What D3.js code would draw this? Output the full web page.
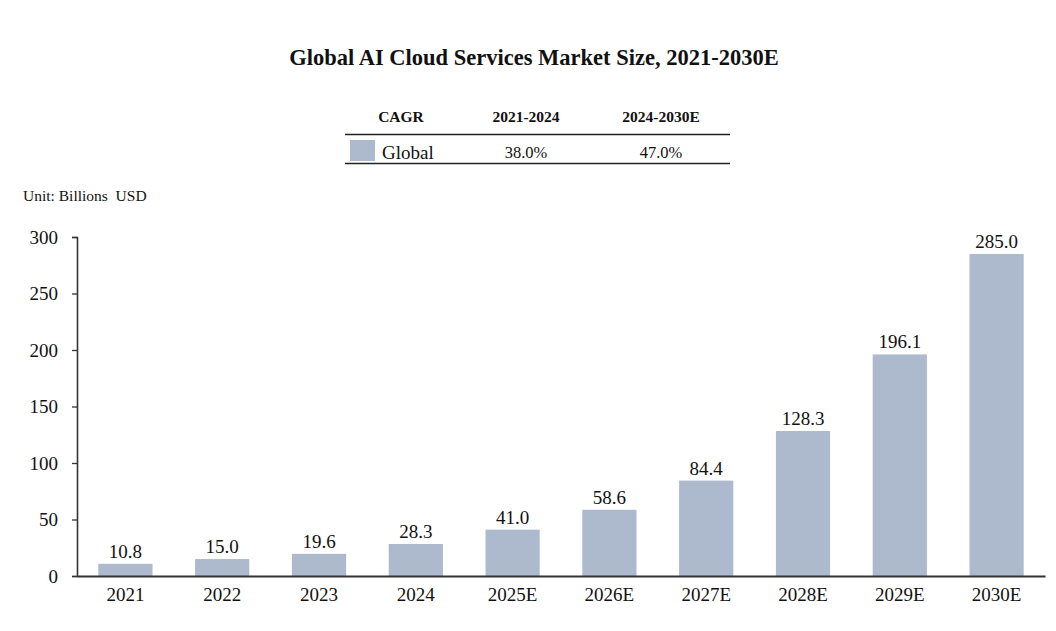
<!DOCTYPE html>
<html lang="en">
<head>
    <meta charset="UTF-8">
    <title>Global AI Cloud Services Market Size</title>
    <script src="https://cdn.jsdelivr.net/npm/d3@7"></script>
    <style>
        body { margin: 0; background: #fff; }
        text { font-family: "Liberation Serif", "Times New Roman", serif; fill: #111; }
    </style>
</head>
<body>
<script>
    // data
    const years = ["2021", "2022", "2023", "2024", "2025E", "2026E", "2027E", "2028E", "2029E", "2030E"];
    const marketSize = [10.8, 15.0, 19.6, 28.3, 41.0, 58.6, 84.4, 128.3, 196.1, 285.0];
    const yTicks = [0, 50, 100, 150, 200, 250, 300];
    const cagrHeaders = ["CAGR", "2021-2024", "2024-2030E"];
    const cagrRow = ["Global", "38.0%", "47.0%"];

    const width = 1056, height = 631;
    const barColor = "#adbacd";

    const svg = d3.select("body").append("svg")
        .attr("width", width)
        .attr("height", height);

    // title
    svg.append("text")
        .attr("x", 534).attr("y", 65)
        .attr("text-anchor", "middle")
        .attr("font-size", 22.5).attr("font-weight", "bold")
        .text("Global AI Cloud Services Market Size, 2021-2030E");

    // CAGR table
    const table = svg.append("g");
    const colX = [401, 526, 661];
    table.selectAll("text.head")
        .data(cagrHeaders)
        .join("text")
        .attr("class", "head")
        .attr("x", (d, i) => colX[i]).attr("y", 122)
        .attr("text-anchor", "middle")
        .attr("font-size", 15.5).attr("font-weight", "bold")
        .text(d => d);

    table.append("line")
        .attr("x1", 345).attr("x2", 730).attr("y1", 134.5).attr("y2", 134.5)
        .attr("stroke", "#222").attr("stroke-width", 1.6);
    table.append("line")
        .attr("x1", 345).attr("x2", 730).attr("y1", 163.5).attr("y2", 163.5)
        .attr("stroke", "#222").attr("stroke-width", 1.6);

    table.append("rect")
        .attr("x", 350).attr("y", 140).attr("width", 25).attr("height", 21)
        .attr("fill", barColor);
    table.append("text")
        .attr("x", 382).attr("y", 159)
        .attr("font-size", 19)
        .text(cagrRow[0]);
    table.selectAll("text.val")
        .data(cagrRow.slice(1))
        .join("text")
        .attr("class", "val")
        .attr("x", (d, i) => colX[i + 1]).attr("y", 158)
        .attr("text-anchor", "middle")
        .attr("font-size", 16.5)
        .text(d => d);

    // unit label
    svg.append("text")
        .attr("x", 23).attr("y", 201)
        .attr("font-size", 15.5)
        .text("Unit: Billions\u00a0\u00a0USD");

    // scales
    const x = d3.scaleBand()
        .domain(years)
        .range([77, 1045])
        .paddingInner(0.44)
        .paddingOuter(0.22);

    const y = d3.scaleLinear()
        .domain([0, 300])
        .range([576, 237]);

    // bars
    svg.append("g")
        .selectAll("rect")
        .data(marketSize)
        .join("rect")
        .attr("x", (d, i) => x(years[i]))
        .attr("y", d => y(d))
        .attr("width", x.bandwidth())
        .attr("height", d => y(0) - y(d))
        .attr("fill", barColor);

    // value labels
    svg.append("g")
        .selectAll("text")
        .data(marketSize)
        .join("text")
        .attr("x", (d, i) => x(years[i]) + x.bandwidth() / 2)
        .attr("y", d => y(d) - 6)
        .attr("text-anchor", "middle")
        .attr("font-size", 19)
        .text(d => d.toFixed(1));

    // y axis
    const yAxis = svg.append("g")
        .attr("transform", "translate(77,0)")
        .call(d3.axisLeft(y).tickValues(yTicks).tickSize(5).tickPadding(14));
    yAxis.select(".domain").attr("stroke", "#333").attr("stroke-width", 1.6);
    yAxis.selectAll(".tick line").attr("stroke", "#333").attr("stroke-width", 1.3);
    yAxis.selectAll(".tick text")
        .attr("font-family", "Liberation Serif, serif")
        .attr("font-size", 19).attr("fill", "#111");

    // x axis
    const xAxis = svg.append("g")
        .attr("transform", "translate(0,576)")
        .call(d3.axisBottom(x).tickSize(0).tickPadding(12));
    xAxis.select(".domain").attr("stroke", "#333").attr("stroke-width", 1.8);
    xAxis.selectAll(".tick text")
        .attr("font-family", "Liberation Serif, serif")
        .attr("font-size", 19).attr("fill", "#111");
</script>
</body>
</html>
